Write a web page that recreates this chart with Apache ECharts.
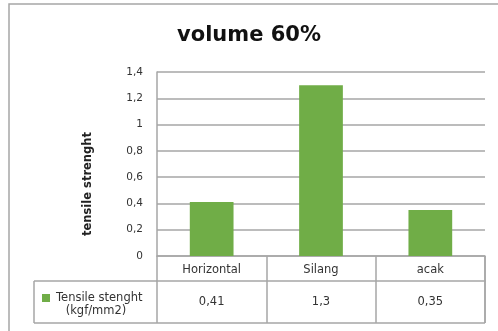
<!DOCTYPE html>
<html>
<head>
<meta charset="utf-8">
<script src="https://cdn.jsdelivr.net/npm/echarts@6/dist/echarts.min.js"></script>
<style>
  html, body { margin: 0; padding: 0; background: #fff; }
  #chart { width: 498px; height: 331px; }
</style>
</head>
<body>
<div id="chart"></div>
<script>
// 数据
var categories = ['Horizontal', 'Silang', 'acak'];
var tensileValues = [0.41, 1.3, 0.35];
var valueLabels = ['0,41', '1,3', '0,35'];
var yTicks = [0, 0.2, 0.4, 0.6, 0.8, 1, 1.2, 1.4];

var seriesName = 'Tensile stenght (kgf/mm2)';
var lineColor = '#a6a6a6';
var font = '"DejaVu Sans", sans-serif';
var textColor = '#333';

var chart = echarts.init(document.getElementById('chart'));

var option = {
  animation: false,
  title: {
    text: 'volume 60%',
    left: 'center',
    top: 20,
    textStyle: { fontFamily: font, fontSize: 21, fontWeight: 'bold', color: '#111' }
  },
  grid: { left: 157, right: 13, top: 72, bottom: 75 },
  legend: {
    data: [seriesName],
    icon: 'rect',
    left: 37,
    top: 287,
    itemWidth: 8,
    itemHeight: 8,
    itemGap: 0,
    formatter: function () { return 'Tensile stenght'; },
    textStyle: { fontFamily: font, fontSize: 11.5, color: textColor, padding: [0, 0, 0, 1] }
  },
  xAxis: [{
    type: 'category',
    data: categories,
    axisLine: { lineStyle: { color: lineColor, width: 1.5 } },
    axisTick: { show: true, length: 67, lineStyle: { color: lineColor, width: 1.5 } },
    axisLabel: { margin: 8, fontFamily: font, fontSize: 11.5, color: textColor }
  }, {
    type: 'category',
    data: valueLabels,
    position: 'bottom',
    offset: 25,
    axisLine: { lineStyle: { color: lineColor, width: 1.5 } },
    axisTick: { show: false },
    axisLabel: { margin: 15, fontFamily: font, fontSize: 11.5, color: textColor }
  }],
  yAxis: {
    type: 'value',
    min: yTicks[0],
    max: yTicks[yTicks.length - 1],
    interval: 0.2,
    name: 'tensile strenght',
    nameLocation: 'middle',
    nameGap: 63,
    nameRotate: 90,
    nameTextStyle: { fontFamily: font, fontSize: 11.5, fontWeight: 'bold', color: '#222', padding: [0, 40, 0, 0] },
    axisLine: { show: true, lineStyle: { color: lineColor, width: 1.5 } },
    axisTick: { show: false },
    splitLine: { lineStyle: { color: lineColor, width: 1.5 } },
    axisLabel: {
      margin: 14,
      fontFamily: font,
      fontSize: 10.5,
      color: textColor,
      formatter: function (v) { return String(Math.round(v * 10) / 10).replace('.', ','); }
    }
  },
  series: [{
    name: seriesName,
    type: 'bar',
    data: tensileValues,
    barWidth: '40%',
    itemStyle: { color: '#70ad47' }
  }],
  graphic: [
    // 外框
    { type: 'rect', shape: { x: 9, y: 4, width: 600, height: 400 }, style: { fill: 'none', stroke: lineColor, lineWidth: 1.5 }, silent: true },
    // 表格-图例单元格
    { type: 'line', shape: { x1: 34, y1: 281, x2: 157, y2: 281 }, style: { stroke: lineColor, lineWidth: 1.5 } },
    { type: 'line', shape: { x1: 34, y1: 323, x2: 485, y2: 323 }, style: { stroke: lineColor, lineWidth: 1.5 } },
    { type: 'line', shape: { x1: 34, y1: 281, x2: 34, y2: 323 }, style: { stroke: lineColor, lineWidth: 1.5 } },
    { type: 'line', shape: { x1: 485, y1: 256, x2: 485, y2: 323 }, style: { stroke: lineColor, lineWidth: 1.5 } },
    {
      type: 'text', x: 96, y: 311,
      style: { text: '(kgf/mm2)', font: '11.5px ' + font, fill: textColor, align: 'center', verticalAlign: 'middle' }
    }
  ]
};

chart.setOption(option);
</script>
</body>
</html>
